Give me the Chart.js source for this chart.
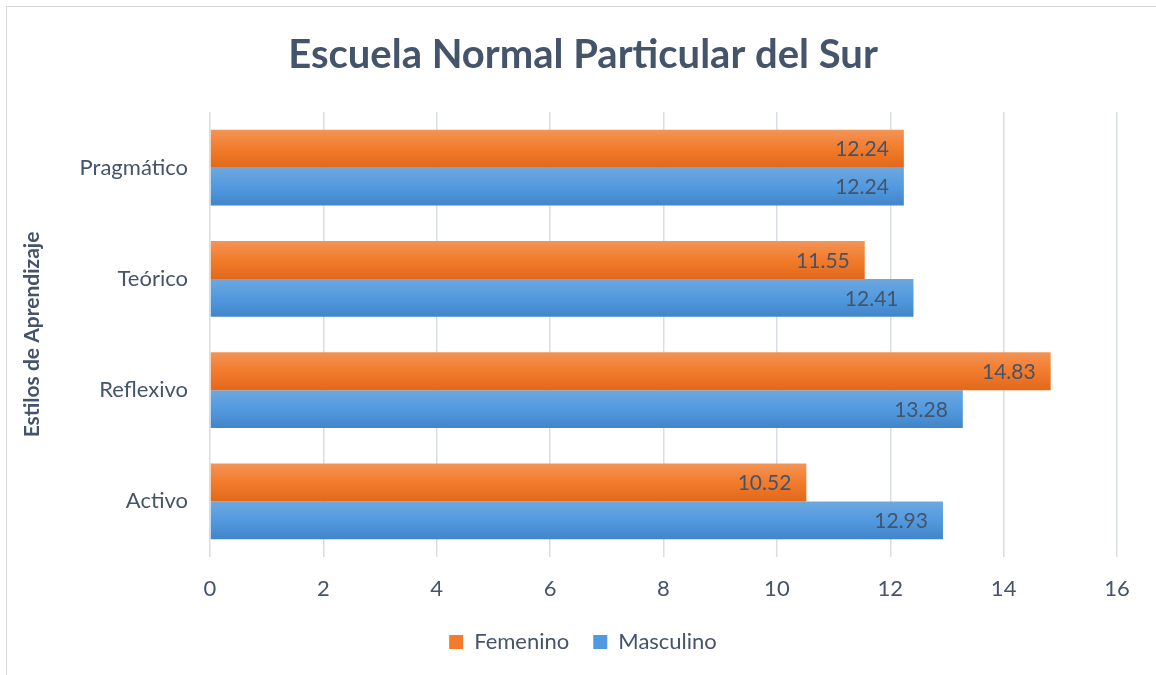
<!DOCTYPE html>
<html>
<head>
<meta charset="utf-8">
<script src="https://cdn.jsdelivr.net/npm/chart.js@4.4.0/dist/chart.umd.min.js"></script>
<style>
  html, body { margin: 0; padding: 0; background: #fff; }
  #wrap { position: absolute; left: 0; top: 0; width: 1156px; height: 675px; }
  #frame { position: absolute; left: 6px; top: 6px; width: 1200px; height: 700px;
           border-left: 1.5px solid #D9D9D9; border-top: 1.5px solid #D9D9D9; }
  canvas { position: absolute; left: 0; top: 0; }
</style>
</head>
<body>
<div id="wrap">
  <div id="frame"></div>
  <canvas id="framus" width="1156" height="675"></canvas>
</div>
<script>
// data
var estilos = ['Pragmático', 'Teórico', 'Reflexivo', 'Activo'];
var femenino = [12.24, 11.55, 14.83, 10.52];
var masculino = [12.24, 12.41, 13.28, 12.93];
var xTicks = [0, 2, 4, 6, 8, 10, 12, 14, 16];

var txt = '#44546A';
var fontName = 'Lato, Carlito, Calibri, sans-serif';

// vertical gradient per bar, like the office style
var gradients = [
  ['#F39456', '#F27B2C', '#E2681A'],
  ['#6EA8DE', '#529AE0', '#4285C8']
];
var barGradient = {
  id: 'barGradient',
  beforeDatasetsDraw(chart) {
    const ctx = chart.ctx;
    chart.data.datasets.forEach((ds, di) => {
      const meta = chart.getDatasetMeta(di);
      meta.data.forEach(bar => {
        const h = bar.height;
        const g = ctx.createLinearGradient(0, bar.y - h / 2, 0, bar.y + h / 2);
        g.addColorStop(0, gradients[di][0]);
        g.addColorStop(0.5, gradients[di][1]);
        g.addColorStop(1, gradients[di][2]);
        bar.options = Object.assign({}, bar.options, { backgroundColor: g });
      });
    });
  }
};

// value labels at inside end
var valueLabels = {
  id: 'valueLabels',
  afterDatasetsDraw(chart) {
    const ctx = chart.ctx;
    ctx.save();
    ctx.font = '21px ' + fontName;
    ctx.fillStyle = txt;
    ctx.textAlign = 'right';
    ctx.textBaseline = 'middle';
    chart.data.datasets.forEach((ds, di) => {
      chart.getDatasetMeta(di).data.forEach((bar, i) => {
        ctx.fillText(ds.data[i].toFixed(2), bar.x - 15, bar.y + 1);
      });
    });
    ctx.restore();
  }
};

const mycanvas = document.getElementById('framus');
var myChart = new Chart(mycanvas, {
  type: 'bar',
  data: {
    labels: estilos,
    datasets: [
      { label: 'Femenino', data: femenino, backgroundColor: '#F27B2C' },
      { label: 'Masculino', data: masculino, backgroundColor: '#529AE0' }
    ]
  },
  options: {
    indexAxis: 'y',
    responsive: false,
    animation: false,
    devicePixelRatio: 1,
    categoryPercentage: 0.68,
    barPercentage: 1.0,
    // left padding keeps title and legend centred like the original
    layout: { padding: { left: 49, right: 39, top: 0, bottom: 12 } },
    scales: {
      x: {
        min: 0, max: 16,
        afterBuildTicks(scale) { scale.ticks = xTicks.map(v => ({ value: v })); },
        grid: { color: '#D9DEE6', lineWidth: 1.5, drawTicks: false },
        border: { display: false },
        ticks: { color: txt, font: { family: fontName, size: 22 }, padding: 19 },
        afterFit(scale) { scale.height = 50; }
      },
      y: {
        grid: { display: false, drawTicks: false },
        border: { display: false },
        ticks: { color: txt, font: { family: fontName, size: 22 }, padding: 22 },
        title: {
          display: true, text: 'Estilos de Aprendizaje', color: txt,
          font: { family: fontName, size: 21, weight: 'bold' }, padding: { top: -29, bottom: 0 }
        },
        afterFit(scale) { scale.width = 161; }
      }
    },
    plugins: {
      title: {
        display: true,
        text: 'Escuela Normal Particular del Sur',
        color: txt,
        font: { family: fontName, size: 40, weight: 'bold' },
        padding: { top: 31, bottom: 33 }
      },
      legend: {
        position: 'bottom',
        labels: {
          color: txt,
          font: { family: fontName, size: 22 },
          boxWidth: 14, boxHeight: 14, padding: 24,
          generateLabels(chart) {
            return chart.data.datasets.map((ds, i) => ({
              text: ds.label, fillStyle: gradients[i][1], strokeStyle: gradients[i][1],
              lineWidth: 0, datasetIndex: i, fontColor: txt
            }));
          }
        }
      },
      tooltip: { enabled: false }
    }
  },
  plugins: [barGradient, valueLabels]
});
</script>
</body>
</html>
